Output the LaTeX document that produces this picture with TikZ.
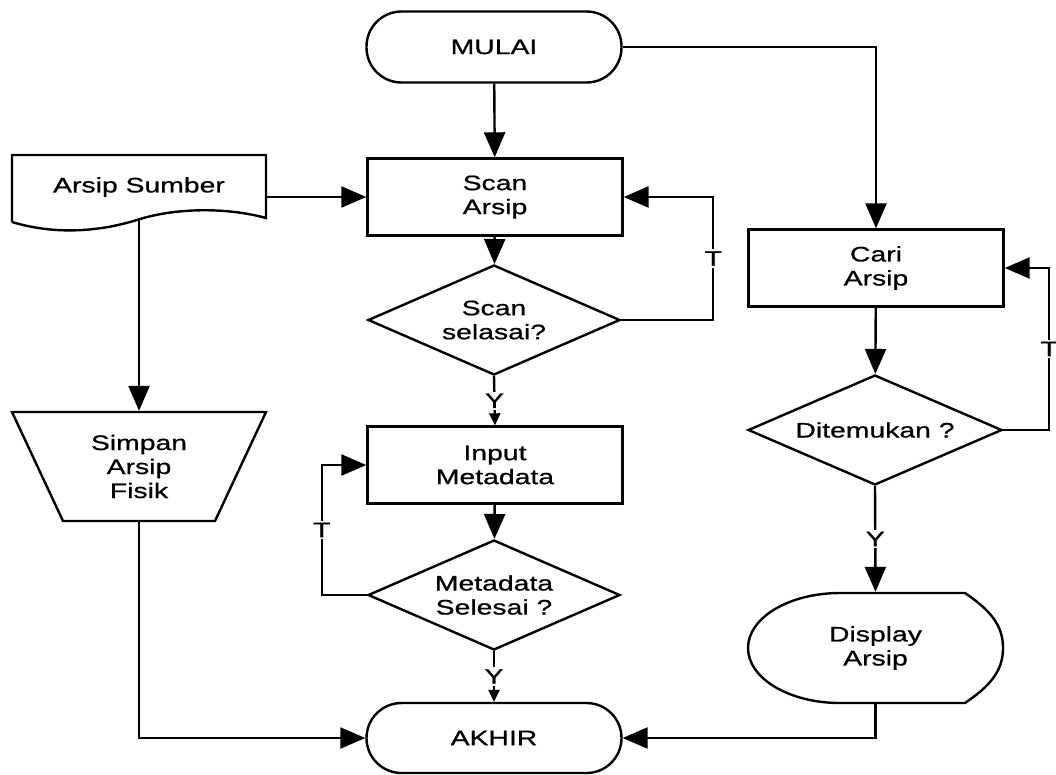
\documentclass[tikz,border=0pt]{standalone}
\usepackage{fontspec}
\setmainfont{Liberation Sans}[FakeStretch=1.35,FakeBold=0.8]
\usetikzlibrary{arrows.meta,shapes.geometric,calc}
\begin{document}
\begin{tikzpicture}[x=1pt,y=-1pt,line width=2.4pt,
  font=\fontsize{21}{24}\selectfont,
  every node/.style={align=center},
  proc/.style={draw,rectangle,minimum width=255pt,minimum height=77pt,inner sep=0pt},
  term/.style={draw,rectangle,rounded corners=35pt,minimum width=255pt,minimum height=71pt,inner sep=0pt},
  dec/.style={draw,diamond,aspect=2.3,minimum width=252pt,minimum height=110pt,inner sep=0pt},
  ghost/.style={rectangle,inner sep=0pt},
  lbl/.style={fill=white,inner sep=2pt},
  arr/.style={-{Triangle[length=25pt,width=21pt]}},
  arrs/.style={-{Triangle[length=12pt,width=11pt]}}]
\useasboundingbox (0,0) rectangle (1056,774);

% nodes
\node[term] (mulai) at (494,47) {MULAI};
\node[proc] (scan) at (495,197) {Scan\\Arsip};
\node[ghost,minimum width=254pt,minimum height=64pt] (src) at (139,187) {Arsip Sumber};
\node[dec] (d1) at (494,320) {Scan\\selasai?};
\node[proc] (inp) at (495,465) {Input\\Metadata};
\node[dec] (d2) at (494,595) {Metadata\\Selesai ?};
\node[term,minimum height=70pt] (akhir) at (494,738) {AKHIR};
\node[ghost,minimum width=254pt,minimum height=109pt] (simp) at (139,466.5) {Simpan\\Arsip\\Fisik};
\node[proc] (cari) at (876,268) {Cari\\Arsip};
\node[dec,minimum width=254pt] (d3) at (875,430) {Ditemukan ?};
\node[ghost,minimum width=255pt,minimum height=110pt] (disp) at (875.5,648) {Display\\Arsip};

% custom outlines
\draw (12,222) -- (12,155) -- (266,155) -- (266,218)
  .. controls (230,208) and (180,207) .. (140,219)
  .. controls (100,232) and (55,235) .. (12,222);
\draw (12,412) -- (266,412) -- (215,521) -- (63,521) -- cycle;
\draw (840,593) -- (965,593) .. controls (990,610) and (1003,625) .. (1003,648)
  .. controls (1003,671) and (990,686) .. (965,703) -- (840,703)
  arc[start angle=270,end angle=90,x radius=92pt,y radius=55pt];

% connectors
\draw[arr] (mulai) -- (scan);
\draw[arr] (src.east |- scan.west) -- (scan.west);
\draw[arr] (src.south) -- (simp.north);
\draw[arr] (simp.south) |- (akhir.west);
\draw[arr] (scan) -- (d1);
\draw[arr] (d1.east) -- ++(92,0) coordinate (k1) -- node[lbl]{T} (k1 |- scan.east) -- (scan.east);
\draw[arrs] (d1.south) -- node[lbl]{Y} (inp.north);
\draw[arr] (inp) -- (d2);
\draw[arr] (d2.west) -- ++(-45,0) coordinate (k2) -- node[lbl]{T} (k2 |- inp.west) -- (inp.west);
\draw[arrs] (d2.south) -- node[lbl]{Y} (akhir.north);
\draw[arr] (mulai.east) -| (cari.north);
\draw[arr] (cari) -- (d3);
\draw[arr] (d3.east) -- ++(46,0) coordinate (k3) -- node[lbl]{T} (k3 |- cari.east) -- (cari.east);
\draw[arr] (d3.south) -- node[lbl]{Y} (disp.north);
\draw[arr] (disp.south) |- (akhir.east);
\end{tikzpicture}
\end{document}
